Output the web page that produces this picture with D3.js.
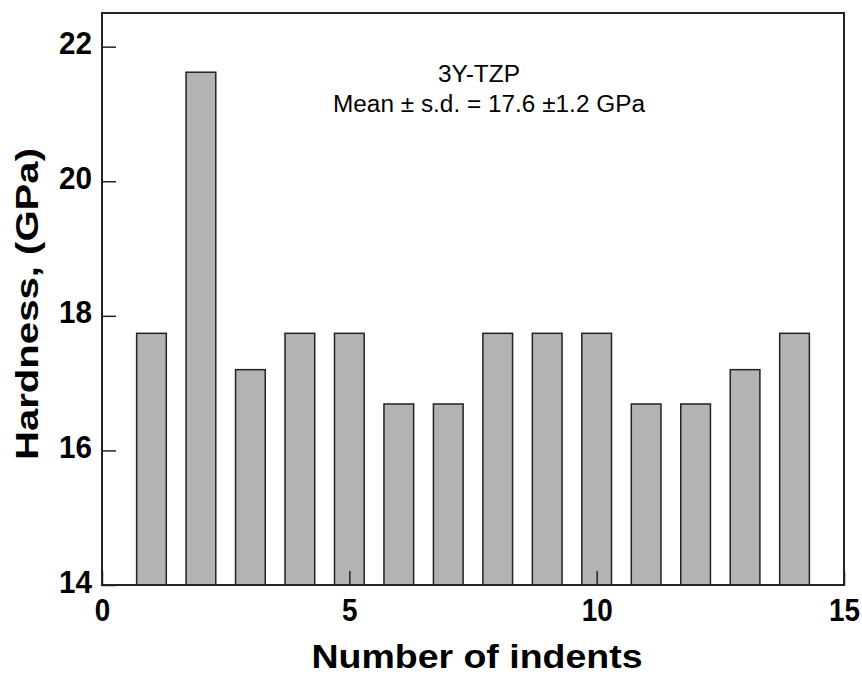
<!DOCTYPE html>
<html>
<head>
<meta charset="utf-8">
<script src="https://cdn.jsdelivr.net/npm/d3@7"></script>
<style>
  html, body { margin: 0; padding: 0; background: #fff; }
  svg { display: block; }
</style>
</head>
<body>
<svg id="chart" width="862" height="674"></svg>
<script>
// Data
const indents = [1, 2, 3, 4, 5, 6, 7, 8, 9, 10, 11, 12, 13, 14];
const hardness = [17.74, 21.62, 17.2, 17.74, 17.74, 16.69, 16.69, 17.74, 17.74, 17.74, 16.69, 16.69, 17.2, 17.74];
const xTicks = [0, 5, 10, 15];
const yTicks = [14, 16, 18, 20, 22];
const annotationLines = ["3Y-TZP", "Mean \u00b1 s.d. = 17.6 \u00b11.2 GPa"];
const xTitle = "Number of indents";
const yTitle = "Hardness, (GPa)";

const W = 862, H = 674;
const margin = { left: 102, top: 13, right: 18, bottom: 89 };
const svg = d3.select("#chart");

const x = d3.scaleLinear().domain([0, 15]).range([margin.left, W - margin.right]);
const y = d3.scaleLinear().domain([14, 22.5]).range([H - margin.bottom, margin.top]);
const barW = 0.6;

// Bars
svg.append("g").selectAll("rect").data(indents).join("rect")
  .attr("x", d => x(d - barW / 2))
  .attr("width", d => x(d + barW / 2) - x(d - barW / 2))
  .attr("y", (d, i) => y(hardness[i]))
  .attr("height", (d, i) => y(14) - y(hardness[i]))
  .attr("fill", "#b3b3b3")
  .attr("stroke", "#222")
  .attr("stroke-width", 1.5);

// Axes
const font = "'Liberation Sans', Arial, sans-serif";
const yAxis = svg.append("g").attr("transform", `translate(${margin.left},0)`)
  .call(d3.axisLeft(y).tickValues(yTicks).tickFormat(d3.format("d"))
    .tickSizeInner(-14).tickSizeOuter(0).tickPadding(10));
yAxis.select(".domain").remove();
yAxis.selectAll("line").attr("stroke", "#222").attr("stroke-width", 1.5);
yAxis.selectAll("text").attr("font-family", font).attr("font-size", 32)
  .attr("font-weight", "bold").attr("fill", "#000").attr("dy", "7px")
  .attr("textLength", d => String(d).length * 16.5).attr("lengthAdjust", "spacingAndGlyphs");

const xAxis = svg.append("g").attr("transform", `translate(0,${H - margin.bottom})`)
  .call(d3.axisBottom(x).tickValues(xTicks).tickFormat(d3.format("d"))
    .tickSizeInner(-14).tickSizeOuter(0).tickPadding(13));
xAxis.select(".domain").remove();
xAxis.selectAll("line").attr("stroke", "#222").attr("stroke-width", 1.5);
xAxis.selectAll("text").attr("font-family", font).attr("font-size", 31)
  .attr("font-weight", "bold").attr("fill", "#000").attr("dy", "22.5px")
  .attr("textLength", d => String(d).length * 15.5).attr("lengthAdjust", "spacingAndGlyphs");

// Frame
svg.append("rect")
  .attr("x", x(0)).attr("y", y(22.5))
  .attr("width", x(15) - x(0)).attr("height", y(14) - y(22.5))
  .attr("fill", "none").attr("stroke", "#222").attr("stroke-width", 2);

// Annotation
svg.append("text").attr("x", 479).attr("y", 81.7)
  .attr("text-anchor", "middle").attr("font-family", font).attr("font-size", 23)
  .attr("textLength", 82).attr("lengthAdjust", "spacingAndGlyphs")
  .attr("fill", "#000").text(annotationLines[0]);
svg.append("text").attr("x", 489).attr("y", 111.7)
  .attr("text-anchor", "middle").attr("font-family", font).attr("font-size", 23)
  .attr("textLength", 312).attr("lengthAdjust", "spacingAndGlyphs")
  .attr("fill", "#000").text(annotationLines[1]);

// Axis titles
svg.append("text").attr("x", 477).attr("y", 668)
  .attr("text-anchor", "middle").attr("font-family", font).attr("font-size", 34)
  .attr("font-weight", "bold").attr("textLength", 331).attr("lengthAdjust", "spacingAndGlyphs")
  .attr("fill", "#000").text(xTitle);
svg.append("text").attr("transform", "translate(38,304) rotate(-90)")
  .attr("text-anchor", "middle").attr("font-family", font).attr("font-size", 32)
  .attr("font-weight", "bold").attr("textLength", 312).attr("lengthAdjust", "spacingAndGlyphs")
  .attr("fill", "#000").text(yTitle);
</script>
</body>
</html>
